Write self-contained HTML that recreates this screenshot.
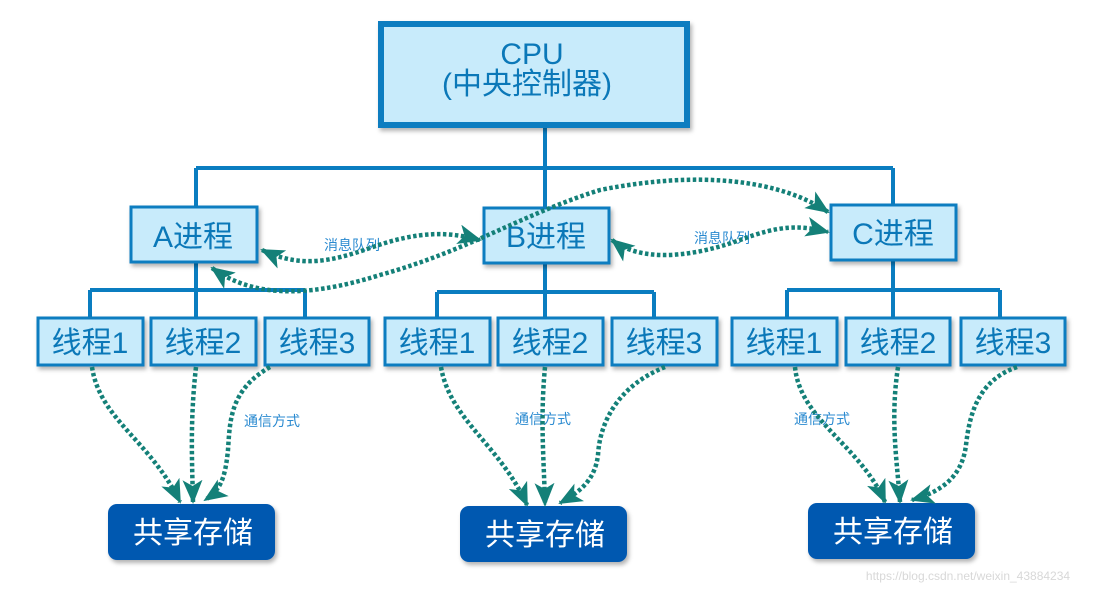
<!DOCTYPE html>
<html><head><meta charset="utf-8"><style>
html,body{margin:0;padding:0;background:#fff;}
svg{display:block;}
.t{font-family:"Liberation Sans","Noto Sans CJK SC",sans-serif;fill:#0b78b8;}
</style></head><body>
<svg width="1098" height="589" viewBox="0 0 1098 589" xmlns="http://www.w3.org/2000/svg">
<defs>
<marker id="ah" markerWidth="24" markerHeight="20" refX="22" refY="10" orient="auto" markerUnits="userSpaceOnUse">
<path d="M0,0 L24,10 L0,20 L6,10 Z" fill="#148078"/>
</marker>
<marker id="as" markerWidth="24" markerHeight="20" refX="22" refY="10" orient="auto-start-reverse" markerUnits="userSpaceOnUse">
<path d="M0,0 L24,10 L0,20 L6,10 Z" fill="#148078"/>
</marker>
<filter id="sh" x="-10%" y="-10%" width="130%" height="140%"><feDropShadow dx="2" dy="3" stdDeviation="2" flood-color="#000" flood-opacity="0.3"/></filter>
</defs>
<g stroke="#0a7dc0" stroke-width="4" fill="none">
<path d="M545,128 V207 M196,168 H893 M196,168 V207 M893,168 V205"/>
<path d="M196,262 V318 M90,290 H305 M90,290 V318 M305,290 V318"/>
<path d="M545,263 V318 M437,292 H654 M437,292 V318 M654,292 V318"/>
<path d="M893,260 V318 M787,290 H1000 M787,290 V318 M1000,290 V318"/>
</g>
<g filter="url(#sh)">
<rect x="381" y="24" width="306" height="101" fill="#c8ebfb" stroke="#0a7dc0" stroke-width="6"/>
<g fill="#c8ebfb" stroke="#0a7dc0" stroke-width="3">
<rect x="131" y="207" width="126" height="55"/>
<rect x="484" y="208" width="125" height="55"/>
<rect x="831" y="205" width="125" height="55"/>
<rect x="38" y="318" width="105" height="47"/><rect x="151" y="318" width="105" height="47"/><rect x="265" y="318" width="104" height="47"/>
<rect x="385" y="318" width="105" height="47"/><rect x="498" y="318" width="105" height="47"/><rect x="612" y="318" width="105" height="47"/>
<rect x="732" y="318" width="105" height="47"/><rect x="846" y="318" width="104" height="47"/><rect x="961" y="318" width="104" height="47"/>
</g>
<g fill="#0058b0">
<rect x="108" y="504" width="167" height="56" rx="9"/>
<rect x="460" y="506" width="167" height="56" rx="9"/>
<rect x="808" y="503" width="167" height="56" rx="9"/>
</g>
</g>
<g class="t" text-anchor="middle">
<text x="532" y="64" font-size="30">CPU</text>
<text x="527" y="94" font-size="30">(中央控制器)</text>
<text x="193" y="247" font-size="30">A进程</text>
<text x="546" y="247" font-size="30">B进程</text>
<text x="893" y="244" font-size="30">C进程</text>
<g font-size="30">
<text x="90" y="353">线程1</text><text x="203" y="353">线程2</text><text x="317" y="353">线程3</text>
<text x="437" y="353">线程1</text><text x="550" y="353">线程2</text><text x="664" y="353">线程3</text>
<text x="784" y="353">线程1</text><text x="898" y="353">线程2</text><text x="1013" y="353">线程3</text>
</g>
<g font-size="14" fill="#2a8ad0">
<text x="352" y="250">消息队列</text><text x="722" y="243">消息队列</text>
<text x="272" y="426">通信方式</text><text x="543" y="424">通信方式</text><text x="822" y="424">通信方式</text>
</g>
</g>
<g font-family="Liberation Sans,Noto Sans CJK SC,sans-serif" font-size="30" fill="#fff" text-anchor="middle">
<text x="193" y="543">共享存储</text><text x="545" y="545">共享存储</text><text x="893" y="542">共享存储</text>
</g>
<g stroke="#148078" stroke-width="4.5" stroke-dasharray="3.5 2.5" fill="none">
<path d="M262,250 C300,268 330,262 370,248 C420,230 450,232 480,240" marker-start="url(#as)" marker-end="url(#ah)"/>
<path d="M212,268 C250,295 300,300 380,275 C470,250 520,215 600,190 C700,170 780,180 828,212" marker-start="url(#as)" marker-end="url(#ah)"/>
<path d="M612,240 C640,262 690,258 740,240 C780,225 800,225 828,232" marker-start="url(#as)" marker-end="url(#ah)"/>
<path d="M92,367 C100,420 150,440 180,502" marker-end="url(#ah)"/>
<path d="M196,367 C190,420 192,460 193,502" marker-end="url(#ah)"/>
<path d="M270,367 C230,390 230,420 228,450 C225,480 220,490 205,500" marker-end="url(#ah)"/>
<path d="M441,367 C450,420 500,445 527,505" marker-end="url(#ah)"/>
<path d="M545,367 C540,420 544,460 545,505" marker-end="url(#ah)"/>
<path d="M665,367 C620,385 600,420 598,455 C595,480 580,492 560,503" marker-end="url(#ah)"/>
<path d="M795,367 C800,420 860,445 885,502" marker-end="url(#ah)"/>
<path d="M898,367 C890,420 897,460 900,502" marker-end="url(#ah)"/>
<path d="M1017,367 C980,380 970,410 966,445 C962,478 940,492 912,500" marker-end="url(#ah)"/>
</g>
<text x="968" y="580" font-family="Liberation Sans,sans-serif" font-size="12" fill="#d8d8d8" text-anchor="middle">https://blog.csdn.net/weixin_43884234</text>
</svg>
</body></html>
